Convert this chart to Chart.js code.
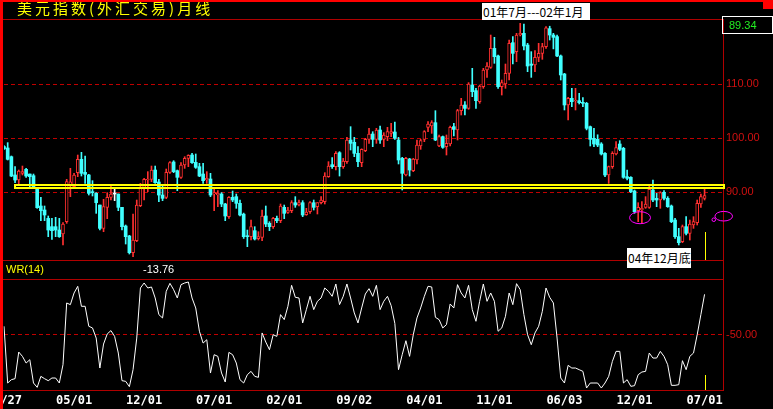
<!DOCTYPE html>
<html>
<head>
<meta charset="utf-8">
<script src="https://cdn.jsdelivr.net/npm/chart.js@4.4.1/dist/chart.umd.min.js"></script>
<style>
html, body { margin: 0; padding: 0; background: #000; }
#wrap { position: relative; width: 773px; height: 409px; overflow: hidden; background: #000; }
canvas { position: absolute; left: 0; top: 0; }
.t { position: absolute; white-space: nowrap; }
</style>
</head>
<body>
<div id="wrap">
<canvas id="price" width="773" height="409" style="width:773px;height:409px"></canvas>
<canvas id="wr" width="773" height="409" style="width:773px;height:409px"></canvas>

<div class="t" style="left:17px;top:0px;font:15px 'Noto Sans CJK SC';letter-spacing:3px;color:#ffff00;line-height:16px">美元指数(外汇交易)月线</div>
<div class="t" style="left:482px;top:3px;width:108px;height:17px;background:#fff;color:#000;font:12px 'Noto Sans CJK SC';line-height:17px;padding-left:1px;box-sizing:border-box">01年7月---02年1月</div>
<div class="t" style="left:627px;top:248px;width:64px;height:20px;background:#fff;color:#000;font:12px 'Noto Sans CJK SC';line-height:20px;padding-left:1px;box-sizing:border-box">04年12月底</div>
<div class="t" style="left:722px;top:16px;width:51px;height:18px;border:1px solid #fff;box-sizing:border-box;color:#22ee22;font:11px 'Liberation Sans';line-height:16px;padding-left:6px">89.34</div>
<div class="t" style="left:6px;top:262px;color:#ffff00;font:11px 'Liberation Sans';line-height:14px">WR(14)</div>
<div class="t" style="left:143px;top:262px;color:#fff;font:11px 'Liberation Sans';line-height:14px">-13.76</div>

<div class="t" style="left:0;top:0;width:773px;height:2px;background:#ff0000"></div>
<div class="t" style="left:0;top:0;width:3px;height:409px;background:#ff0000"></div>
<div class="t" style="left:763px;top:0;width:10px;height:9px;background:#ff0000"></div>
</div>

<script>
// US dollar index, monthly candles, Oct 1989 .. Jul 2005
var opens = [98.4,98.15,96.54,93.15,92.22,93.46,94.2,93.33,93.02,90.8,
  87.41,86.67,85.12,83.58,83.58,82.96,82.22,84.51,91.3,90.99,
  93.58,96.05,93.64,93.15,90.06,89.75,87.59,83.27,87.16,89.01,
  89.63,89.63,87.16,83.7,81.85,78.77,81.0,87.47,90.86,92.22,
  92.35,94.07,91.85,89.44,89.01,93.64,95.56,93.95,92.72,95.0,
  96.23,96.85,95.49,94.69,93.33,92.22,92.41,89.63,89.44,89.63,
  87.78,85.43,89.01,89.14,87.9,85.9,81.85,81.73,82.84,81.36,
  81.6,85.56,84.2,83.58,85.12,84.69,87.16,86.23,86.54,88.02,
  87.59,88.02,85.8,86.36,88.02,87.28,88.02,88.21,92.84,95.06,
  94.69,97.28,94.69,95.62,99.63,99.2,97.16,95.43,97.65,99.75,
  100.74,99.75,101.48,99.75,100.25,100.86,101.11,99.63,96.23,93.15,
  96.11,93.95,95.93,98.52,99.75,101.98,102.22,102.84,98.52,100.25,
  98.4,98.89,102.1,101.48,105.06,106.11,105.49,109.81,108.77,106.73,
  109.51,112.59,113.09,116.6,115.19,109.51,110.0,111.98,117.65,115.99,
  119.07,119.38,117.22,113.7,113.52,114.94,115.68,116.91,120.25,119.07,
  118.77,115.19,111.85,106.11,107.35,106.85,106.91,106.6,106.42,102.1,
  99.94,99.75,98.89,97.16,93.15,94.69,97.04,98.89,98.09,92.84,
  92.72,90.19,86.54,86.67,87.16,87.16,90.37,88.83,88.52,89.94,
  88.83,87.41,84.81,81.73,80.8,83.58,82.35,83.89,84.32,87.78,
  88.83];
var highs = [98.6,99.14,96.67,94.69,94.07,94.81,94.38,93.33,93.33,90.8,
  89.01,87.41,85.56,85.12,85.31,85.12,84.32,92.35,94.38,93.46,
  96.85,97.35,96.67,93.27,92.1,89.88,87.59,88.64,89.88,91.3,
  90.68,89.63,87.16,83.89,81.98,85.93,88.52,91.6,92.53,93.77,
  94.81,94.81,92.35,91.3,94.26,95.62,95.8,94.07,95.43,96.54,
  96.9,97.16,97.04,95.31,95.31,93.77,93.46,90.49,90.25,89.88,
  87.9,89.14,90.19,89.63,88.52,86.1,82.96,84.81,83.58,82.65,
  86.67,87.41,84.5,85.31,85.56,87.78,87.59,87.16,88.4,89.14,
  88.52,88.4,86.98,88.21,88.52,88.02,89.14,93.58,95.62,96.36,
  97.47,97.47,96.23,100.12,102.1,100.12,98.4,98.0,99.94,101.79,
  101.17,101.79,102.22,100.99,101.98,102.72,102.96,100.12,96.42,96.42,
  96.23,96.23,99.63,99.75,101.36,103.02,103.21,105.06,100.56,100.37,
  100.56,102.22,102.72,105.31,107.35,106.73,110.25,112.9,109.2,109.81,
  112.9,113.95,119.07,118.64,115.37,110.74,113.7,118.15,118.77,119.38,
  121.23,121.11,117.53,115.99,116.17,117.53,117.53,120.62,120.7,119.38,
  119.07,115.37,111.98,107.53,109.2,109.2,108.27,107.5,106.6,102.22,
  101.8,100.6,99.14,97.28,94.81,97.47,99.32,99.51,98.27,94.07,
  92.84,90.37,88.02,88.21,89.14,91.36,92.22,89.75,90.06,90.25,
  89.14,87.59,85.12,83.27,83.89,85.43,84.81,85.43,88.52,89.63,
  90.8];
var lows = [97.9,95.93,92.84,91.73,91.3,93.15,92.72,90.68,90.68,86.98,
  84.69,84.69,81.73,81.23,81.73,81.6,80.19,84.2,89.14,90.68,
  92.84,92.96,91.6,89.44,89.26,86.05,82.96,82.65,85.06,88.52,
  88.4,86.54,82.96,80.37,78.52,78.02,80.8,87.28,88.52,90.06,
  91.91,91.6,88.21,88.4,88.77,93.46,93.58,90.25,92.53,94.38,
  94.69,95.31,94.38,92.84,91.6,91.6,89.14,86.54,87.28,87.28,
  84.69,85.12,88.21,86.98,85.56,81.4,79.88,81.11,81.11,81.11,
  80.99,83.58,82.84,83.27,84.32,84.32,85.06,86.05,86.17,87.16,
  87.41,85.43,85.68,86.05,86.67,85.93,87.78,87.78,92.72,94.38,
  94.07,92.96,94.38,95.31,97.78,96.54,94.69,94.69,97.47,99.01,
  98.4,99.01,99.01,98.4,99.51,100.25,99.75,95.19,90.37,92.96,
  92.96,93.77,95.19,97.9,99.32,101.17,100.86,99.51,98.4,98.09,
  96.85,98.52,100.37,99.63,104.26,104.26,105.31,107.65,105.49,106.42,
  109.2,111.23,112.9,113.83,109.2,107.96,109.2,110.74,113.7,114.14,
  118.9,116.3,112.28,111.23,112.28,114.14,114.57,116.6,118.15,116.5,
  115.06,110.74,105.19,103.33,105.8,105.19,106.3,105.8,101.5,98.52,
  98.4,98.4,96.85,92.84,91.6,94.38,96.85,97.65,92.53,92.22,
  89.88,86.05,84.51,84.2,86.98,86.98,88.21,87.28,86.98,88.52,
  87.16,84.32,81.42,80.19,80.62,82.04,81.11,83.27,83.89,87.16,
  88.52];
var closes = [98.0,96.05,92.96,92.22,93.89,93.77,92.96,92.84,90.99,87.1,
  86.54,85.74,82.96,82.84,82.96,81.73,84.07,91.91,91.9,93.15,
  96.05,93.46,93.27,89.75,89.88,88.02,83.27,87.28,89.01,89.63,
  89.63,87.16,83.58,81.73,78.77,81.11,87.59,90.86,92.35,92.35,
  94.07,91.73,89.44,88.83,93.64,95.43,93.77,92.72,95.0,96.23,
  96.8,95.43,94.57,92.96,92.1,92.53,89.44,89.88,89.75,87.78,
  85.56,89.01,88.52,87.9,85.74,81.73,81.73,83.58,81.3,81.73,
  85.56,84.07,83.58,85.12,84.69,87.41,86.05,86.67,88.02,87.59,
  88.02,85.74,86.3,88.02,87.16,88.02,88.52,92.96,94.81,94.69,
  97.16,94.69,95.74,99.63,99.01,97.16,95.62,97.9,99.75,100.74,
  99.75,101.48,99.63,100.56,101.17,101.17,99.94,95.93,93.46,96.23,
  94.07,96.11,98.7,99.51,101.17,102.59,102.84,99.63,100.25,98.27,
  99.01,101.98,101.6,105.06,106.11,105.49,110.0,108.58,106.91,109.63,
  112.59,113.33,116.6,115.06,109.51,110.25,111.98,117.53,115.68,119.07,
  119.38,117.04,113.33,113.46,114.94,115.68,116.91,120.4,119.07,118.64,
  115.19,111.67,106.11,107.35,106.73,107.04,106.54,106.42,101.79,99.75,
  98.89,98.7,97.04,93.15,94.69,97.16,98.21,97.9,92.72,92.53,
  90.06,86.36,87.16,86.98,87.78,90.49,88.52,88.52,89.88,88.83,
  87.28,84.51,81.73,80.62,83.58,82.35,84.07,84.51,87.9,89.14,
  89.34];
// WR(14) line
var wr14 = [-42.6,-93.7,-90.7,-89.8,-65.8,-69.7,-75.7,-72.7,-93.7,-97.6,
  -87.7,-89.8,-91.6,-89.2,-89.2,-93.7,-77.2,-21.6,-23.1,-12.6,
  -6.6,-24.6,-24.6,-42.6,-44.1,-53.2,-80.2,-58.6,-49.5,-46.5,
  -51.7,-66.7,-91.6,-92.2,-97.0,-81.7,-53.2,-8.1,-3.6,-8.1,
  -7.2,-17.1,-32.1,-35.1,-11.1,-3.9,-9.6,-17.1,-5.1,-3.6,
  -2.7,-17.1,-26.1,-47.1,-57.7,-54.7,-84.7,-68.2,-69.7,-84.7,
  -92.8,-66.1,-68.2,-75.7,-90.7,-93.7,-86.2,-83.2,-87.7,-88.6,
  -48.6,-56.8,-63.7,-50.2,-51.7,-32.1,-36.6,-24.6,-5.7,-16.5,
  -17.1,-39.6,-27.6,-15.6,-27.6,-20.1,-17.1,-8.1,-11.1,-15.6,
  -4.5,-23.1,-15.6,-4.5,-17.1,-30.6,-39.6,-26.1,-13.5,-8.7,
  -15.6,-5.7,-27.6,-20.1,-15.6,-24.0,-40.0,-81.7,-68.2,-55.6,
  -69.7,-50.2,-35.1,-26.1,-15.6,-6.6,-7.2,-34.5,-36.6,-44.1,
  -41.1,-22.5,-26.1,-5.1,-12.6,-17.1,-5.7,-27.6,-38.1,-20.1,
  -4.5,-20.1,-12.6,-20.1,-47.1,-44.1,-33.6,-12.6,-23.1,-4.2,
  -9.6,-32.1,-50.2,-59.2,-48.6,-42.6,-29.1,-8.1,-16.5,-21.6,
  -53.2,-89.2,-93.7,-77.8,-80.2,-80.2,-81.7,-83.2,-98.2,-93.7,
  -93.7,-93.7,-98.2,-93.7,-87.7,-74.2,-65.2,-65.2,-93.7,-90.7,
  -96.7,-96.1,-86.2,-83.8,-83.2,-66.7,-71.2,-71.2,-65.2,-69.7,
  -77.2,-95.8,-95.8,-95.2,-73.6,-81.7,-69.7,-66.7,-50.2,-32.1,
  -13.8];

var tickLabels = ['10/27','05/01','12/01','07/01','02/01','09/02','04/01','11/01','06/03','12/01','07/01'];
var tickStep = 19;
var priceTicks = [90, 100, 110];
var wrTicks = [-50];
var channel = [90.556, 91.48];   // the yellow band

// month categories, plus a few empty slots on the right like the original
var months = [];
for (var i = 0; i < 196; i++) {
  var m = 9 + i;
  months.push(i < opens.length ? (1989 + Math.floor(m / 12)) + '-' + String(m % 12 + 1).padStart(2, '0') : '');
}
var tickAt = {};
tickLabels.forEach(function(t, k){ tickAt[k * tickStep] = t; });

var RED = '#ff3030', CYAN = '#40ffff', DOJI = '#ffffff';
var candleColor = closes.map(function(c, i){
  return c > opens[i] ? RED : (c < opens[i] ? CYAN : DOJI);
});

var frame = {
  id: 'frame',
  beforeDatasetsDraw: function(chart, args, opts){
    var ctx = chart.ctx, a = chart.chartArea;
    ctx.save();
    ctx.fillStyle = '#b00000';
    ctx.fillRect(3, a.top, a.right - 3, 1);
    ctx.fillRect(3, a.bottom, a.right - 3, 1);
    var vt = opts.vTop != null ? opts.vTop : a.top;
    ctx.fillRect(a.right, vt, 1, a.bottom - vt + 1);
    ctx.restore();
  }
};

var priceMarks = {
  id: 'priceMarks',
  afterDatasetsDraw: function(chart){
    var ctx = chart.ctx, a = chart.chartArea, x = chart.scales.x, y = chart.scales.y;
    ctx.save();
    // yellow band
    ctx.fillStyle = '#ffff00';
    var yt = Math.round(y.getPixelForValue(channel[1]));
    var yb = Math.round(y.getPixelForValue(channel[0]));
    var x0 = Math.round(x.getPixelForValue(2.7)), x1 = a.right + 2;
    ctx.fillRect(x0, yt, x1 - x0, 2);
    ctx.fillRect(x0, yb - 2, x1 - x0, 2);
    ctx.fillRect(x0, yt, 2, yb - yt);
    ctx.fillRect(x1 - 2, yt, 2, yb - yt);
    // cursor line
    var cx = Math.round(x.getPixelForValue(190.1));
    var cy = Math.round(y.getPixelForValue(82.6));
    ctx.fillRect(cx, cy, 1, a.bottom - cy);
    // magenta rings
    ctx.strokeStyle = '#ff00ff';
    ctx.lineWidth = 1;
    ctx.beginPath();
    ctx.ellipse(x.getPixelForValue(172.5), y.getPixelForValue(85.24), 10.5, 6, 0, 0, Math.PI * 2);
    ctx.stroke();
    ctx.beginPath();
    ctx.ellipse(x.getPixelForValue(195.2), y.getPixelForValue(85.52), 8.8, 4.8, 0, 0, Math.PI * 2);
    ctx.stroke();
    ctx.beginPath();
    ctx.arc(x.getPixelForValue(192.5), y.getPixelForValue(84.87), 1.8, 0, Math.PI * 2);
    ctx.stroke();
    ctx.restore();
  }
};

var wrMarks = {
  id: 'wrMarks',
  afterDatasetsDraw: function(chart){
    var ctx = chart.ctx, a = chart.chartArea, x = chart.scales.x, y = chart.scales.y;
    ctx.save();
    ctx.fillStyle = '#ffff00';
    var cx = Math.round(x.getPixelForValue(190.1));
    var cy = Math.round(y.getPixelForValue(-86.2));
    ctx.fillRect(cx, cy, 1, a.bottom - cy);
    ctx.restore();
  }
};

var fixTicks = function(list){
  return function(s){ s.ticks = list.map(function(v){ return {value: v}; }); };
};

new Chart(document.getElementById('price'), {
  type: 'bar',
  data: {
    labels: months,
    datasets: [{
      // bodies
      data: opens.map(function(o, i){ return [o, closes[i]]; }),
      backgroundColor: candleColor.map(function(c){ return c === RED ? '#000' : c; }),
      borderColor: candleColor,
      borderWidth: candleColor.map(function(c){ return c === RED ? 1 : 0; }),
      borderSkipped: false,
      barThickness: 3,
      minBarLength: 1,
      grouped: false,
      order: 1
    }, {
      // wicks
      data: lows.map(function(l, i){ return [l, highs[i]]; }),
      backgroundColor: candleColor,
      borderWidth: 0,
      barThickness: 1,
      minBarLength: 1,
      grouped: false,
      order: 2
    }]
  },
  options: {
    responsive: false,
    animation: false,
    devicePixelRatio: 1,
    events: [],
    layout: { padding: { left: 4, top: 19, right: 0, bottom: 149 } },
    plugins: { legend: { display: false }, tooltip: { enabled: false }, frame: {} },
    scales: {
      x: { type: 'category', offset: false, display: false },
      y: {
        position: 'right',
        min: 77.41, max: 122.037,
        afterBuildTicks: fixTicks(priceTicks),
        afterFit: function(s){ s.width = 50; },
        grid: { color: '#c00000', drawTicks: false },
        border: { display: false, dash: [4, 3] },
        ticks: {
          color: '#d01010', padding: 3,
          font: { family: 'Liberation Sans', size: 11 },
          callback: function(v){ return Number(v).toFixed(2); }
        }
      }
    }
  },
  plugins: [frame, priceMarks]
});

new Chart(document.getElementById('wr'), {
  type: 'line',
  data: {
    labels: months,
    datasets: [{
      data: wr14,
      borderColor: '#ffffff',
      borderWidth: 1,
      pointRadius: 0,
      tension: 0,
      fill: false
    }]
  },
  options: {
    responsive: false,
    animation: false,
    devicePixelRatio: 1,
    events: [],
    layout: { padding: { left: 4, top: 279, right: 0, bottom: 0 } },
    plugins: { legend: { display: false }, tooltip: { enabled: false }, frame: { vTop: 260 } },
    scales: {
      x: {
        type: 'category', offset: false,
        grid: { display: false, drawTicks: false },
        border: { display: false },
        afterFit: function(s){ s.height = 19; s.paddingLeft = 0; s.paddingRight = 0; },
        ticks: {
          autoSkip: false, maxRotation: 0, minRotation: 0, padding: 4,
          color: '#ffffff',
          font: { family: 'DejaVu Sans Mono', size: 12, weight: 'bold' },
          callback: function(v, i){ return tickAt[i] || ''; }
        }
      },
      y: {
        position: 'right',
        min: -100, max: 0,
        afterBuildTicks: fixTicks(wrTicks),
        afterFit: function(s){ s.width = 50; },
        grid: { color: '#c00000', drawTicks: false },
        border: { display: false, dash: [4, 3] },
        ticks: {
          color: '#d01010', padding: 3,
          font: { family: 'Liberation Sans', size: 11 },
          callback: function(v){ return Number(v).toFixed(2); }
        }
      }
    }
  },
  plugins: [frame, wrMarks]
});
</script>
</body>
</html>
